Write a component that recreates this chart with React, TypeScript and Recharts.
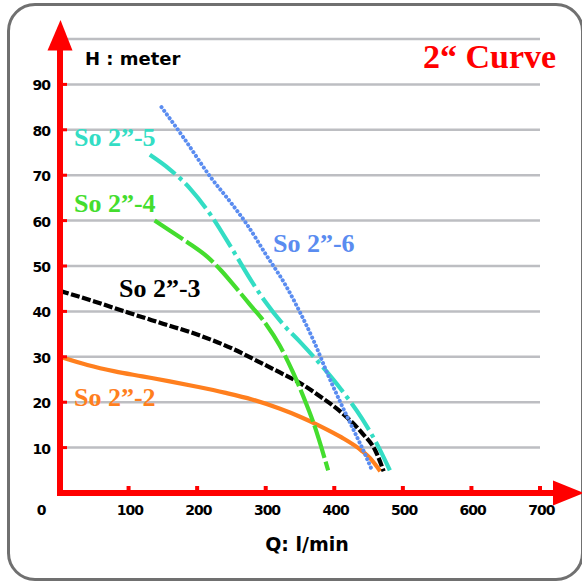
import React from 'react';
import { LineChart, Line, XAxis, YAxis, CartesianGrid, ReferenceDot } from 'recharts';

// ---- data ----
const xTicks = [0, 100, 200, 300, 400, 500, 600, 700];
const yTicks = [10, 20, 30, 40, 50, 60, 70, 80, 90];

const so22Q = [0, 40, 80, 120, 160, 200, 240, 280, 320, 350, 380, 410, 440, 455, 467];
const so22H = [30, 28.2, 26.8, 25.7, 24.6, 23.4, 22.1, 20.6, 18.6, 16.8, 14.7, 12.3, 9.3, 7.2, 4.8];

const so23Q = [0, 50, 100, 150, 200, 250, 290, 320, 350, 380, 410, 440, 460, 472];
const so23H = [44.5, 42.2, 39.7, 37.3, 34.9, 31.9, 28.9, 26.6, 24.2, 21.2, 17.8, 13.3, 9.3, 4.8];

const so24Q = [138, 160, 190, 215, 235, 255, 277, 300, 320, 340, 355, 370, 391];
const so24H = [60, 57.8, 54.8, 52, 49, 45.5, 41.5, 37.3, 32.6, 26.5, 21.2, 15.3, 5];

const so25Q = [131, 160, 190, 220, 250, 280, 300, 325, 350, 380, 410, 440, 465, 481];
const so25H = [74.5, 71.3, 67, 61.2, 54, 46.5, 42, 37.2, 33.3, 28.3, 22.8, 16.5, 10, 5];

const so26Q = [148, 180, 220, 250, 272, 300, 330, 350, 370, 390, 410, 430, 445, 455];
const so26H = [85, 78.3, 69.5, 63.8, 59.3, 52.6, 45.5, 39.8, 33.5, 26.3, 19.6, 13.3, 8.5, 5];

const seriesNames = ['So 2\u201d-2', 'So 2\u201d-3', 'So 2\u201d-4', 'So 2\u201d-5', 'So 2\u201d-6'];

const toRows = (q: number[], h: number[]) => q.map((v, i) => ({ q: v, h: h[i] }));

const series = [
  { name: seriesNames[0], data: toRows(so22Q, so22H), color: '#FF7F1E', dash: undefined as string | undefined, cap: 'butt' },
  { name: seriesNames[1], data: toRows(so23Q, so23H), color: '#000000', dash: '9 2.5', cap: 'butt' },
  { name: seriesNames[2], data: toRows(so24Q, so24H), color: '#44DD2E', dash: '34 4', cap: 'butt' },
  { name: seriesNames[3], data: toRows(so25Q, so25H), color: '#33DDC4', dash: '32 5 4 5', cap: 'butt' },
  { name: seriesNames[4], data: toRows(so26Q, so26H), color: '#5A8CF0', dash: '0.1 4.5', cap: 'round' },
];

const RED = '#FF0000';
const tickFont = '"DejaVu Sans", Verdana, sans-serif';
const titleFont = '"DejaVu Sans", Verdana, sans-serif';
const serifFont = '"Liberation Serif", "Times New Roman", serif';

const XTick = (props: any) => {
  const { x, y, payload } = props;
  if (payload.value === 0) {
    return (
      <text x={x - 19} y={y + 22} textAnchor="middle" fontFamily={tickFont} fontWeight="bold" fontSize={14} letterSpacing={-1} fill="#000">
        0
      </text>
    );
  }
  return (
    <g>
      <rect x={x - 2} y={y - 7} width={4} height={5} fill={RED} />
      <text x={x + 1.3} y={y + 22} textAnchor="middle" fontFamily={tickFont} fontWeight="bold" fontSize={14} letterSpacing={-1} fill="#000">
        {payload.value}
      </text>
    </g>
  );
};

const YTick = (props: any) => {
  const { x, y, payload } = props;
  return (
    <g>
      <rect x={x + 2} y={y - 1.5} width={5} height={3} fill={RED} />
      <text x={x - 10} y={y + 6} textAnchor="end" fontFamily={tickFont} fontWeight="bold" fontSize={14} letterSpacing={-1} fill="#000">
        {payload.value}
      </text>
    </g>
  );
};

const YArrow = (p: any) => (
  <path d={`M${p.cx - 12.5},${p.cy + 11.5} L${p.cx + 0.5},${p.cy - 19} L${p.cx + 12.5},${p.cy + 11.5} Z`} fill={RED} />
);

const XArrow = (p: any) => (
  <g>
    <rect x={p.cx} y={p.cy - 3} width={15} height={6} fill={RED} />
    <path d={`M${p.cx + 13},${p.cy - 12.5} L${p.cx + 44},${p.cy} L${p.cx + 13},${p.cy + 12.5} Z`} fill={RED} />
  </g>
);

const labels = [
  { text: seriesNames[3], x: 74, y: 146, color: '#33DDC4' },
  { text: seriesNames[2], x: 74, y: 212, color: '#44DD2E' },
  { text: seriesNames[1], x: 119, y: 297, color: '#000000' },
  { text: seriesNames[0], x: 74, y: 406, color: '#FF7F1E' },
  { text: seriesNames[4], x: 273, y: 252, color: '#5A8CF0' },
];

export default function App() {
  return (
    <div style={{ position: 'absolute', left: 0, top: 0, width: 582, height: 585, background: '#fff', overflow: 'hidden' }}>
      <div
        style={{
          position: 'absolute',
          left: 7,
          top: 3,
          width: 571,
          height: 572,
          border: '3px solid #707070',
          borderRadius: 28,
          boxSizing: 'content-box',
        }}
      />
      <div style={{ position: 'absolute', left: 0, top: 0 }}>
        <LineChart width={582} height={585} margin={{ top: 39, right: 42, bottom: 32, left: 0 }}>
          <CartesianGrid horizontal vertical={false} stroke="#BDBEC2" strokeWidth={2.5} />
          <XAxis
            type="number"
            dataKey="q"
            domain={[0, 700]}
            ticks={xTicks}
            interval={0}
            height={60}
            tickSize={0}
            tickMargin={0}
            tickLine={false}
            axisLine={{ stroke: RED, strokeWidth: 6, strokeLinecap: 'square' }}
            tick={<XTick />}
            allowDataOverflow
          />
          <YAxis
            type="number"
            domain={[0, 100]}
            ticks={yTicks}
            interval={0}
            width={60}
            tickSize={0}
            tickMargin={0}
            tickLine={false}
            axisLine={{ stroke: RED, strokeWidth: 6, strokeLinecap: 'square' }}
            tick={<YTick />}
            allowDataOverflow
          />
          {series.map((s) => (
            <Line
              key={s.name}
              data={s.data}
              dataKey="h"
              name={s.name}
              type="monotone"
              stroke={s.color}
              strokeWidth={s.cap === 'round' ? 4 : 4.2}
              strokeDasharray={s.dash}
              strokeLinecap={s.cap as any}
              dot={false}
              activeDot={false}
              isAnimationActive={false}
            />
          ))}
          <ReferenceDot x={0} y={100} r={0} ifOverflow="visible" shape={YArrow} />
          <ReferenceDot x={700} y={0} r={0} ifOverflow="visible" shape={XArrow} />
        </LineChart>
      </div>
      <svg width={582} height={585} style={{ position: 'absolute', left: 0, top: 0, pointerEvents: 'none' }}>
        <text x={85} y={65} fontFamily={titleFont} fontWeight="bold" fontSize={18} fill="#000">
          H : meter
        </text>
        <text x={423} y={68} fontFamily={serifFont} fontWeight="bold" fontSize={34} fill={RED}>
          2{'\u201c'} Curve
        </text>
        <text x={307} y={551} textAnchor="middle" fontFamily={titleFont} fontWeight="bold" fontSize={19} fill="#000">
          Q: l/min
        </text>
        {labels.map((l) => (
          <text key={l.text} x={l.x} y={l.y} fontFamily={serifFont} fontWeight="bold" fontSize={26} fill={l.color}>
            {l.text}
          </text>
        ))}
      </svg>
    </div>
  );
}
